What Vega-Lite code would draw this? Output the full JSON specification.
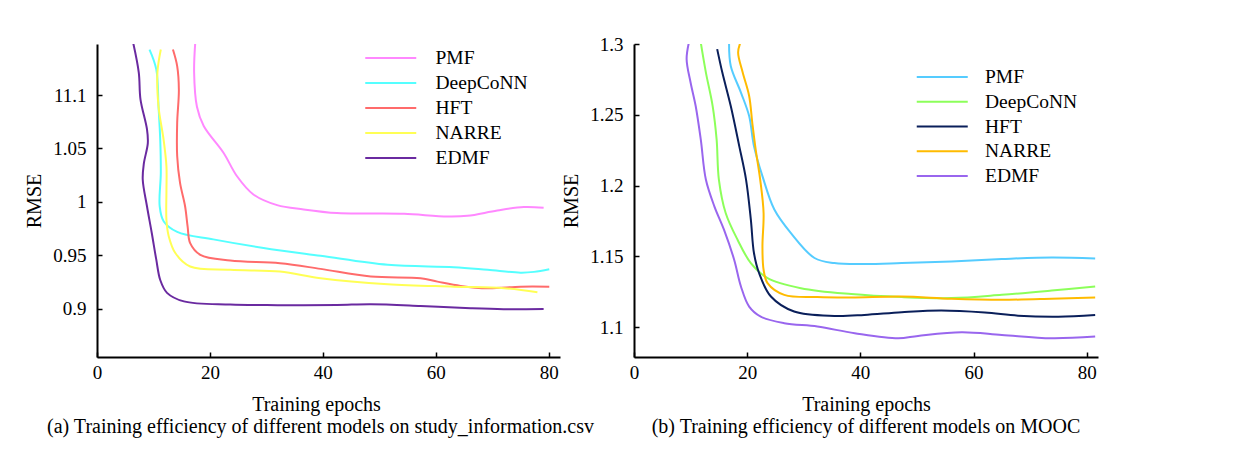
{
  "$schema": "https://vega.github.io/schema/vega-lite/v6.json",
  "background": "white",
  "padding": {"left": 24, "top": 35, "right": 10, "bottom": 10},
  "bounds": "flush",
  "spacing": 74,
  "config": {
    "view": {"stroke": null},
    "font": "Liberation Serif",
    "axis": {
      "grid": false,
      "domainColor": "black",
      "domainWidth": 2,
      "tickColor": "black",
      "tickWidth": 1.5,
      "tickSize": -5,
      "labelFont": "Liberation Serif",
      "labelFontSize": 19,
      "labelColor": "black",
      "titleFont": "Liberation Serif",
      "titleFontSize": 20,
      "titleFontWeight": "normal",
      "titleColor": "black"
    },
    "axisX": {"labelPadding": 11.5, "titlePadding": 12, "labelAngle": 0, "labelFlush": false},
    "axisY": {"labelPadding": 16, "titlePadding": 8},
    "legend": {
      "orient": "none",
      "symbolType": "M-5.1,0H5.1",
      "symbolSize": 100,
      "symbolStrokeWidth": 2,
      "rowPadding": 4,
      "labelFont": "Liberation Serif",
      "labelFontSize": 19.5,
      "labelColor": "black",
      "labelOffset": 35,
      "padding": 0
    },
    "title": {
      "font": "Liberation Serif",
      "fontSize": 20,
      "fontWeight": "normal",
      "color": "black",
      "anchor": "middle",
      "frame": "group",
      "offset": 2.5
    }
  },
  "datasets": {
    "left": [
      {"model": "EDMF", "i": 0, "epoch": 6.4, "rmse": 1.149},
      {"model": "EDMF", "i": 1, "epoch": 7.4, "rmse": 1.121},
      {"model": "EDMF", "i": 2, "epoch": 7.7, "rmse": 1.096},
      {"model": "EDMF", "i": 3, "epoch": 8.85, "rmse": 1.068},
      {"model": "EDMF", "i": 4, "epoch": 9.0, "rmse": 1.055},
      {"model": "EDMF", "i": 5, "epoch": 8.3, "rmse": 1.036},
      {"model": "EDMF", "i": 6, "epoch": 8.1, "rmse": 1.021},
      {"model": "EDMF", "i": 7, "epoch": 8.85, "rmse": 0.996},
      {"model": "EDMF", "i": 8, "epoch": 9.7, "rmse": 0.971},
      {"model": "EDMF", "i": 9, "epoch": 10.5, "rmse": 0.946},
      {"model": "EDMF", "i": 10, "epoch": 11.2, "rmse": 0.927},
      {"model": "EDMF", "i": 11, "epoch": 12.4, "rmse": 0.915},
      {"model": "EDMF", "i": 12, "epoch": 15.4, "rmse": 0.907},
      {"model": "EDMF", "i": 13, "epoch": 23.6, "rmse": 0.904},
      {"model": "EDMF", "i": 14, "epoch": 32.0, "rmse": 0.9035},
      {"model": "EDMF", "i": 15, "epoch": 42.5, "rmse": 0.9037},
      {"model": "EDMF", "i": 16, "epoch": 48.5, "rmse": 0.9044},
      {"model": "EDMF", "i": 17, "epoch": 57.3, "rmse": 0.9028},
      {"model": "EDMF", "i": 18, "epoch": 66.2, "rmse": 0.9006},
      {"model": "EDMF", "i": 19, "epoch": 72.0, "rmse": 0.8997},
      {"model": "EDMF", "i": 20, "epoch": 79.1, "rmse": 0.8999},
      {"model": "PMF", "i": 0, "epoch": 17.4, "rmse": 1.149},
      {"model": "PMF", "i": 1, "epoch": 17.2, "rmse": 1.121},
      {"model": "PMF", "i": 2, "epoch": 17.7, "rmse": 1.089},
      {"model": "PMF", "i": 3, "epoch": 18.9, "rmse": 1.071},
      {"model": "PMF", "i": 4, "epoch": 22.4, "rmse": 1.046},
      {"model": "PMF", "i": 5, "epoch": 24.8, "rmse": 1.024},
      {"model": "PMF", "i": 6, "epoch": 27.7, "rmse": 1.007},
      {"model": "PMF", "i": 7, "epoch": 31.9, "rmse": 0.997},
      {"model": "PMF", "i": 8, "epoch": 36.6, "rmse": 0.993},
      {"model": "PMF", "i": 9, "epoch": 42.5, "rmse": 0.9896},
      {"model": "PMF", "i": 10, "epoch": 48.5, "rmse": 0.9892},
      {"model": "PMF", "i": 11, "epoch": 54.4, "rmse": 0.9889},
      {"model": "PMF", "i": 12, "epoch": 62.1, "rmse": 0.9864},
      {"model": "PMF", "i": 13, "epoch": 65.6, "rmse": 0.987},
      {"model": "PMF", "i": 14, "epoch": 70.9, "rmse": 0.992},
      {"model": "PMF", "i": 15, "epoch": 75.6, "rmse": 0.9952},
      {"model": "PMF", "i": 16, "epoch": 79.1, "rmse": 0.9945},
      {"model": "DeepCoNN", "i": 0, "epoch": 9.3, "rmse": 1.1425},
      {"model": "DeepCoNN", "i": 1, "epoch": 10.5, "rmse": 1.124},
      {"model": "DeepCoNN", "i": 2, "epoch": 10.9, "rmse": 1.089},
      {"model": "DeepCoNN", "i": 3, "epoch": 11.2, "rmse": 1.058},
      {"model": "DeepCoNN", "i": 4, "epoch": 11.3, "rmse": 1.027},
      {"model": "DeepCoNN", "i": 5, "epoch": 11.1, "rmse": 0.996},
      {"model": "DeepCoNN", "i": 6, "epoch": 11.8, "rmse": 0.982},
      {"model": "DeepCoNN", "i": 7, "epoch": 14.2, "rmse": 0.972},
      {"model": "DeepCoNN", "i": 8, "epoch": 20.6, "rmse": 0.965},
      {"model": "DeepCoNN", "i": 9, "epoch": 29.5, "rmse": 0.957},
      {"model": "DeepCoNN", "i": 10, "epoch": 39.6, "rmse": 0.9496},
      {"model": "DeepCoNN", "i": 11, "epoch": 51.5, "rmse": 0.9412},
      {"model": "DeepCoNN", "i": 12, "epoch": 63.2, "rmse": 0.939},
      {"model": "DeepCoNN", "i": 13, "epoch": 69.2, "rmse": 0.9365},
      {"model": "DeepCoNN", "i": 14, "epoch": 75.0, "rmse": 0.9339},
      {"model": "DeepCoNN", "i": 15, "epoch": 77.4, "rmse": 0.9346},
      {"model": "DeepCoNN", "i": 16, "epoch": 80.1, "rmse": 0.9371},
      {"model": "HFT", "i": 0, "epoch": 13.45, "rmse": 1.1425},
      {"model": "HFT", "i": 1, "epoch": 14.2, "rmse": 1.127},
      {"model": "HFT", "i": 2, "epoch": 14.5, "rmse": 1.105},
      {"model": "HFT", "i": 3, "epoch": 14.2, "rmse": 1.074},
      {"model": "HFT", "i": 4, "epoch": 14.2, "rmse": 1.043},
      {"model": "HFT", "i": 5, "epoch": 14.7, "rmse": 1.018},
      {"model": "HFT", "i": 6, "epoch": 15.6, "rmse": 0.996},
      {"model": "HFT", "i": 7, "epoch": 16.05, "rmse": 0.977},
      {"model": "HFT", "i": 8, "epoch": 16.5, "rmse": 0.9615},
      {"model": "HFT", "i": 9, "epoch": 18.3, "rmse": 0.9505},
      {"model": "HFT", "i": 10, "epoch": 23.6, "rmse": 0.9452},
      {"model": "HFT", "i": 11, "epoch": 32.4, "rmse": 0.9427},
      {"model": "HFT", "i": 12, "epoch": 39.6, "rmse": 0.9374},
      {"model": "HFT", "i": 13, "epoch": 48.5, "rmse": 0.9302},
      {"model": "HFT", "i": 14, "epoch": 57.3, "rmse": 0.9287},
      {"model": "HFT", "i": 15, "epoch": 60.3, "rmse": 0.9255},
      {"model": "HFT", "i": 16, "epoch": 64.4, "rmse": 0.9215},
      {"model": "HFT", "i": 17, "epoch": 69.2, "rmse": 0.9193},
      {"model": "HFT", "i": 18, "epoch": 75.0, "rmse": 0.9208},
      {"model": "HFT", "i": 19, "epoch": 80.1, "rmse": 0.9208},
      {"model": "NARRE", "i": 0, "epoch": 11.3, "rmse": 1.1425},
      {"model": "NARRE", "i": 1, "epoch": 10.7, "rmse": 1.121},
      {"model": "NARRE", "i": 2, "epoch": 10.9, "rmse": 1.089},
      {"model": "NARRE", "i": 3, "epoch": 11.8, "rmse": 1.058},
      {"model": "NARRE", "i": 4, "epoch": 12.3, "rmse": 1.033},
      {"model": "NARRE", "i": 5, "epoch": 12.3, "rmse": 1.011},
      {"model": "NARRE", "i": 6, "epoch": 12.3, "rmse": 0.983},
      {"model": "NARRE", "i": 7, "epoch": 12.7, "rmse": 0.968},
      {"model": "NARRE", "i": 8, "epoch": 13.9, "rmse": 0.952},
      {"model": "NARRE", "i": 9, "epoch": 16.5, "rmse": 0.9396},
      {"model": "NARRE", "i": 10, "epoch": 23.6, "rmse": 0.9365},
      {"model": "NARRE", "i": 11, "epoch": 32.4, "rmse": 0.9349},
      {"model": "NARRE", "i": 12, "epoch": 39.6, "rmse": 0.9287},
      {"model": "NARRE", "i": 13, "epoch": 51.5, "rmse": 0.9231},
      {"model": "NARRE", "i": 14, "epoch": 63.2, "rmse": 0.9208},
      {"model": "NARRE", "i": 15, "epoch": 72.1, "rmse": 0.9193},
      {"model": "NARRE", "i": 16, "epoch": 78.0, "rmse": 0.9156}
    ],
    "right": [
      {"model": "PMF", "i": 0, "epoch": 16.8, "rmse": 1.301},
      {"model": "PMF", "i": 1, "epoch": 17.1, "rmse": 1.2845},
      {"model": "PMF", "i": 2, "epoch": 18.9, "rmse": 1.2657},
      {"model": "PMF", "i": 3, "epoch": 20.35, "rmse": 1.2491},
      {"model": "PMF", "i": 4, "epoch": 21.2, "rmse": 1.2279},
      {"model": "PMF", "i": 5, "epoch": 22.7, "rmse": 1.2067},
      {"model": "PMF", "i": 6, "epoch": 24.8, "rmse": 1.1831},
      {"model": "PMF", "i": 7, "epoch": 27.7, "rmse": 1.1666},
      {"model": "PMF", "i": 8, "epoch": 31.9, "rmse": 1.1489},
      {"model": "PMF", "i": 9, "epoch": 35.4, "rmse": 1.1453},
      {"model": "PMF", "i": 10, "epoch": 40.7, "rmse": 1.1446},
      {"model": "PMF", "i": 11, "epoch": 47.3, "rmse": 1.1453},
      {"model": "PMF", "i": 12, "epoch": 56.1, "rmse": 1.1465},
      {"model": "PMF", "i": 13, "epoch": 65.0, "rmse": 1.1482},
      {"model": "PMF", "i": 14, "epoch": 73.8, "rmse": 1.1493},
      {"model": "PMF", "i": 15, "epoch": 81.5, "rmse": 1.1486},
      {"model": "DeepCoNN", "i": 0, "epoch": 11.8, "rmse": 1.301},
      {"model": "DeepCoNN", "i": 1, "epoch": 12.7, "rmse": 1.28},
      {"model": "DeepCoNN", "i": 2, "epoch": 13.9, "rmse": 1.2562},
      {"model": "DeepCoNN", "i": 3, "epoch": 14.6, "rmse": 1.2326},
      {"model": "DeepCoNN", "i": 4, "epoch": 15.0, "rmse": 1.2043},
      {"model": "DeepCoNN", "i": 5, "epoch": 16.2, "rmse": 1.1807},
      {"model": "DeepCoNN", "i": 6, "epoch": 18.3, "rmse": 1.1618},
      {"model": "DeepCoNN", "i": 7, "epoch": 20.65, "rmse": 1.1453},
      {"model": "DeepCoNN", "i": 8, "epoch": 23.6, "rmse": 1.1347},
      {"model": "DeepCoNN", "i": 9, "epoch": 29.5, "rmse": 1.1276},
      {"model": "DeepCoNN", "i": 10, "epoch": 38.4, "rmse": 1.1234},
      {"model": "DeepCoNN", "i": 11, "epoch": 47.3, "rmse": 1.1213},
      {"model": "DeepCoNN", "i": 12, "epoch": 56.1, "rmse": 1.1206},
      {"model": "DeepCoNN", "i": 13, "epoch": 65.0, "rmse": 1.1229},
      {"model": "DeepCoNN", "i": 14, "epoch": 73.8, "rmse": 1.1259},
      {"model": "DeepCoNN", "i": 15, "epoch": 81.5, "rmse": 1.1288},
      {"model": "HFT", "i": 0, "epoch": 14.7, "rmse": 1.2964},
      {"model": "HFT", "i": 1, "epoch": 15.6, "rmse": 1.28},
      {"model": "HFT", "i": 2, "epoch": 17.1, "rmse": 1.2562},
      {"model": "HFT", "i": 3, "epoch": 18.6, "rmse": 1.2279},
      {"model": "HFT", "i": 4, "epoch": 19.8, "rmse": 1.2043},
      {"model": "HFT", "i": 5, "epoch": 20.65, "rmse": 1.176},
      {"model": "HFT", "i": 6, "epoch": 21.2, "rmse": 1.1524},
      {"model": "HFT", "i": 7, "epoch": 22.1, "rmse": 1.1383},
      {"model": "HFT", "i": 8, "epoch": 24.2, "rmse": 1.1217},
      {"model": "HFT", "i": 9, "epoch": 28.3, "rmse": 1.1111},
      {"model": "HFT", "i": 10, "epoch": 35.4, "rmse": 1.108},
      {"model": "HFT", "i": 11, "epoch": 40.7, "rmse": 1.1087},
      {"model": "HFT", "i": 12, "epoch": 47.3, "rmse": 1.1106},
      {"model": "HFT", "i": 13, "epoch": 54.3, "rmse": 1.1118},
      {"model": "HFT", "i": 14, "epoch": 62.0, "rmse": 1.1104},
      {"model": "HFT", "i": 15, "epoch": 67.9, "rmse": 1.1082},
      {"model": "HFT", "i": 16, "epoch": 75.0, "rmse": 1.1075},
      {"model": "HFT", "i": 17, "epoch": 81.5, "rmse": 1.1087},
      {"model": "NARRE", "i": 0, "epoch": 18.8, "rmse": 1.301},
      {"model": "NARRE", "i": 1, "epoch": 18.4, "rmse": 1.294},
      {"model": "NARRE", "i": 2, "epoch": 19.2, "rmse": 1.28},
      {"model": "NARRE", "i": 3, "epoch": 20.35, "rmse": 1.2633},
      {"model": "NARRE", "i": 4, "epoch": 20.9, "rmse": 1.2445},
      {"model": "NARRE", "i": 5, "epoch": 21.5, "rmse": 1.2256},
      {"model": "NARRE", "i": 6, "epoch": 22.3, "rmse": 1.2043},
      {"model": "NARRE", "i": 7, "epoch": 22.9, "rmse": 1.1807},
      {"model": "NARRE", "i": 8, "epoch": 22.7, "rmse": 1.1571},
      {"model": "NARRE", "i": 9, "epoch": 22.9, "rmse": 1.1406},
      {"model": "NARRE", "i": 10, "epoch": 23.6, "rmse": 1.1312},
      {"model": "NARRE", "i": 11, "epoch": 26.55, "rmse": 1.1229},
      {"model": "NARRE", "i": 12, "epoch": 32.4, "rmse": 1.1213},
      {"model": "NARRE", "i": 13, "epoch": 38.4, "rmse": 1.121},
      {"model": "NARRE", "i": 14, "epoch": 47.3, "rmse": 1.1217},
      {"model": "NARRE", "i": 15, "epoch": 56.1, "rmse": 1.1201},
      {"model": "NARRE", "i": 16, "epoch": 65.0, "rmse": 1.1194},
      {"model": "NARRE", "i": 17, "epoch": 73.8, "rmse": 1.1201},
      {"model": "NARRE", "i": 18, "epoch": 81.5, "rmse": 1.121},
      {"model": "EDMF", "i": 0, "epoch": 9.7, "rmse": 1.301},
      {"model": "EDMF", "i": 1, "epoch": 9.3, "rmse": 1.2893},
      {"model": "EDMF", "i": 2, "epoch": 10.0, "rmse": 1.2728},
      {"model": "EDMF", "i": 3, "epoch": 10.9, "rmse": 1.2562},
      {"model": "EDMF", "i": 4, "epoch": 11.8, "rmse": 1.2326},
      {"model": "EDMF", "i": 5, "epoch": 12.7, "rmse": 1.2043},
      {"model": "EDMF", "i": 6, "epoch": 14.2, "rmse": 1.1854},
      {"model": "EDMF", "i": 7, "epoch": 15.9, "rmse": 1.1689},
      {"model": "EDMF", "i": 8, "epoch": 17.7, "rmse": 1.1477},
      {"model": "EDMF", "i": 9, "epoch": 18.9, "rmse": 1.1288},
      {"model": "EDMF", "i": 10, "epoch": 20.35, "rmse": 1.1146},
      {"model": "EDMF", "i": 11, "epoch": 22.4, "rmse": 1.1075},
      {"model": "EDMF", "i": 12, "epoch": 26.55, "rmse": 1.1029},
      {"model": "EDMF", "i": 13, "epoch": 32.4, "rmse": 1.1005},
      {"model": "EDMF", "i": 14, "epoch": 39.0, "rmse": 1.0958},
      {"model": "EDMF", "i": 15, "epoch": 46.7, "rmse": 1.0922},
      {"model": "EDMF", "i": 16, "epoch": 50.2, "rmse": 1.0939},
      {"model": "EDMF", "i": 17, "epoch": 57.9, "rmse": 1.0965},
      {"model": "EDMF", "i": 18, "epoch": 65.0, "rmse": 1.0946},
      {"model": "EDMF", "i": 19, "epoch": 73.8, "rmse": 1.0922},
      {"model": "EDMF", "i": 20, "epoch": 81.5, "rmse": 1.0934}
    ]
  },
  "resolve": {"scale": {"color": "independent"}, "legend": {"color": "independent"}},
  "hconcat": [
    {
      "width": 463,
      "height": 313,
      "data": {"name": "left"},
      "mark": {"type": "line", "interpolate": "catmull-rom", "strokeWidth": 2, "clip": true},
      "encoding": {
        "x": {"field": "epoch", "type": "quantitative", "scale": {"domain": [0, 82], "nice": false}, "axis": {"values": [0, 20, 40, 60, 80], "title": "Training epochs", "titleX": 219}},
        "y": {"field": "rmse", "type": "quantitative", "scale": {"domain": [0.855, 1.1477], "nice": false, "zero": false}, "axis": {"values": [0.9, 0.95, 1, 1.05, 1.1], "labelExpr": "datum.value == 1.1 ? '11.1' : format(datum.value, '~g')", "title": "RMSE"}},
        "color": {"field": "model", "type": "nominal", "scale": {"domain": ["PMF", "DeepCoNN", "HFT", "NARRE", "EDMF"], "range": ["#ff88ff", "#55ffff", "#ff6b6b", "#ffff55", "#6a2aa0"]}, "legend": {"title": null, "legendX": 284, "legendY": 4.25}},
        "order": {"field": "i", "type": "quantitative"}
      },
      "title": {"text": "(a) Training efficiency of different models on study_information.csv", "orient": "bottom", "dx": -8}
    },
    {
      "width": 464,
      "height": 313,
      "data": {"name": "right"},
      "mark": {"type": "line", "interpolate": "catmull-rom", "strokeWidth": 2, "clip": true},
      "encoding": {
        "x": {"field": "epoch", "type": "quantitative", "scale": {"domain": [0, 82], "nice": false}, "axis": {"values": [0, 20, 40, 60, 80], "title": "Training epochs"}},
        "y": {"field": "rmse", "type": "quantitative", "scale": {"domain": [1.079, 1.3], "nice": false, "zero": false}, "axis": {"values": [1.1, 1.15, 1.2, 1.25, 1.3], "format": "~g", "title": "RMSE"}},
        "color": {"field": "model", "type": "nominal", "scale": {"domain": ["PMF", "DeepCoNN", "HFT", "NARRE", "EDMF"], "range": ["#55ccff", "#8cff5a", "#0a1f5a", "#ffbb00", "#9966ee"]}, "legend": {"title": null, "legendX": 298.5, "legendY": 23.25, "rowPadding": 3.75, "labelOffset": 33}},
        "order": {"field": "i", "type": "quantitative"}
      },
      "title": {"text": "(b) Training efficiency of different models on MOOC", "orient": "bottom"}
    }
  ]
}
